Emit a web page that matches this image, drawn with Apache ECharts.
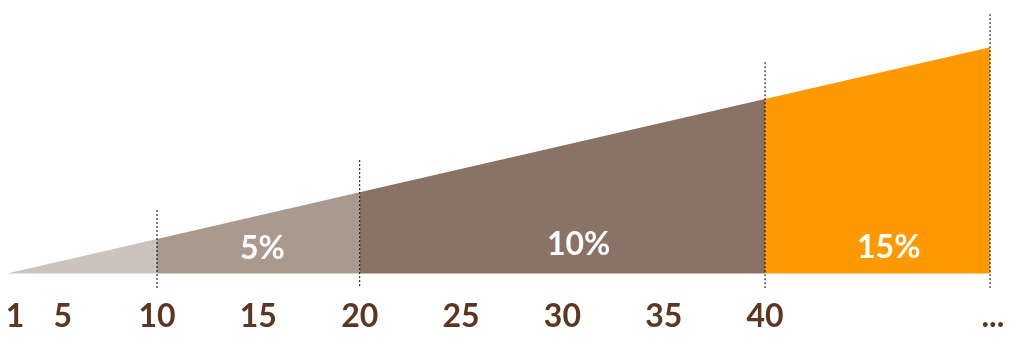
<!DOCTYPE html>
<html>
<head>
<meta charset="utf-8">
<style>
  html, body { margin: 0; padding: 0; background: #ffffff; }
  #chart { width: 1014px; height: 364px; }
</style>
<script src="https://cdn.jsdelivr.net/npm/echarts@6/dist/echarts.min.js"></script>
</head>
<body>
<div id="chart"></div>
<script>
// Band boundaries (x position) and the height of the rising wedge at each boundary
const bandStartX = [2.6, 10, 20, 40];
const bandEndX   = [10, 20, 40, 51.1];
const bandStartY = [0, 7.4, 17.4, 37.4];
const bandEndY   = [7.4, 17.4, 37.4, 48.5];
const bandColors = ['#cdc3bd', '#aa998f', '#8a7264', '#ff9900'];

// Rate labels inside the bands
const rateLabels = ['5%', '10%', '15%'];
const rateX = [15.2, 30.8, 46.1];
const rateY = [5.3, 6.1, 5.5];

// Dotted dividers: x, top and bottom
const dividerX = [10, 20, 40, 51.1];
const dividerTop = [13.6, 24.3, 45.3, 55.6];
const dividerBottom = -3.1;

// Axis tick labels
const tickValues = [3.0, 5.35, 10, 15, 20, 25, 30, 35, 40, 51.24];
const tickLabels = ['1', '5', '10', '15', '20', '25', '30', '35', '40', '...'];

const series = [];
for (let i = 0; i < bandStartX.length; i++) {
  series.push({
    type: 'line',
    data: [[bandStartX[i], bandStartY[i]], [bandEndX[i], bandEndY[i]]],
    symbol: 'none',
    lineStyle: { width: 0, opacity: 0 },
    areaStyle: { color: bandColors[i], opacity: 1 },
    silent: true,
    z: 1
  });
}
for (let i = 0; i < dividerX.length; i++) {
  series.push({
    type: 'line',
    data: [[dividerX[i], dividerTop[i]], [dividerX[i], dividerBottom]],
    symbol: 'none',
    lineStyle: { color: '#000000', width: 1, type: [2, 2] },
    silent: true,
    z: 3
  });
}
series.push({
  type: 'scatter',
  data: rateX.map((x, i) => ({ value: [x, rateY[i]], name: rateLabels[i] })),
  symbolSize: 0,
  silent: true,
  z: 5,
  itemStyle: { opacity: 1 },
  label: {
    show: true,
    position: 'inside',
    formatter: p => p.name,
    color: '#ffffff',
    opacity: 1,
    fontFamily: 'Lato',
    fontWeight: 'bold',
    fontSize: 32
  }
});

const chart = echarts.init(document.getElementById('chart'), null, { renderer: 'canvas' });
chart.setOption({
  animation: false,
  backgroundColor: '#ffffff',
  grid: { left: 7, top: 12.3, width: 993.2, height: 279.8, containLabel: false },
  xAxis: {
    type: 'value',
    min: 2.6,
    max: 51.6,
    axisLine: { show: false },
    axisTick: { show: false },
    splitLine: { show: false },
    axisLabel: {
      customValues: tickValues,
      formatter: v => {
        const idx = tickValues.findIndex(t => Math.abs(t - v) < 1e-6);
        return idx >= 0 ? tickLabels[idx] : '';
      },
      margin: 9,
      color: '#5b3722',
      fontFamily: 'Lato',
      fontWeight: 'bold',
      fontSize: 32,
      showMinLabel: true,
      showMaxLabel: true,
      hideOverlap: false
    }
  },
  yAxis: {
    type: 'value',
    min: -4,
    max: 56,
    show: false
  },
  series: series
});
</script>
</body>
</html>
